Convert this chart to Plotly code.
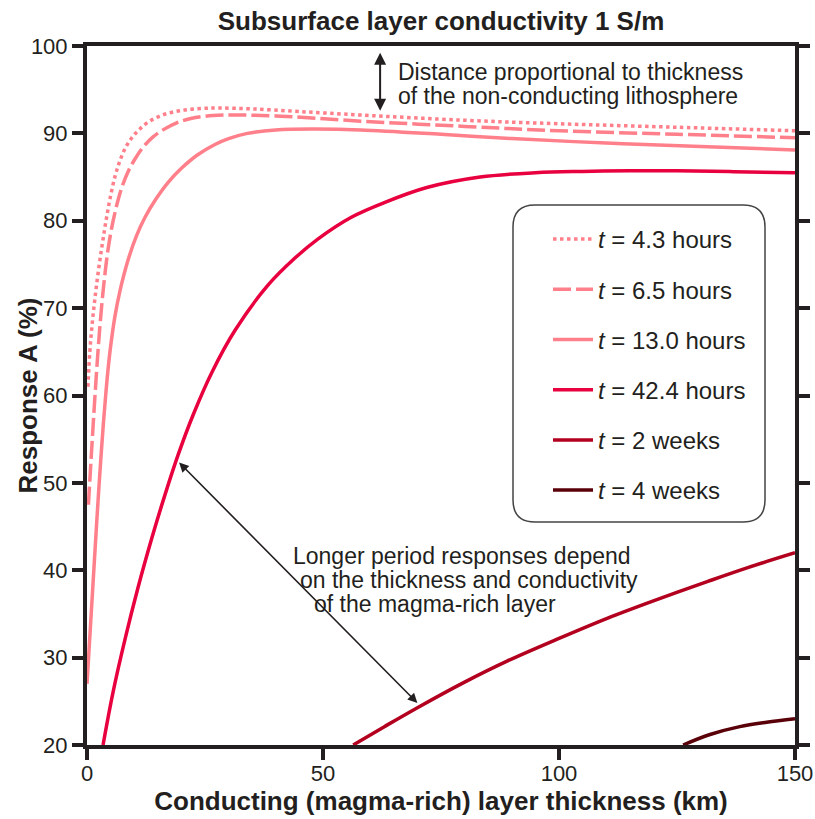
import plotly.graph_objects as go

# Response curves: layer thickness (km) vs response A (%)
x_43h = [0.2, 0.6, 1.1, 1.7, 2.4, 3.2, 4.0, 4.9, 6.0, 7.0, 8.1, 9.5, 11, 13, 16, 19.7, 24, 28, 35, 45, 58, 80, 100, 125, 150]
y_43h = [61, 65.0, 68.2, 71.2, 74.2, 77.2, 79.9, 82.6, 85.2, 86.9, 88.3, 89.5, 90.4, 91.3, 92.1, 92.6, 92.85, 92.9, 92.8, 92.5, 92.1, 91.5, 91.1, 90.7, 90.3]

x_65h = [0.3, 0.7, 1.1, 1.6, 2.1, 2.6, 3.2, 3.8, 4.4, 5.2, 6.0, 6.6, 7.5, 8.7, 10.2, 12, 14, 16.1, 19, 22, 26.7, 32, 40, 58, 80, 100, 125, 150]
y_65h = [47.5, 51.2, 54.8, 59.2, 63.3, 67.0, 70.8, 73.9, 76.5, 79.1, 81.1, 82.4, 84.0, 85.6, 87.1, 88.5, 89.6, 90.4, 91.2, 91.7, 92.05, 92.1, 92.0, 91.4, 90.8, 90.3, 89.9, 89.5]

x_130h = [0, 0.5, 1.0, 1.5, 2.0, 2.5, 3.0, 3.5, 4.0, 4.5, 5.0, 5.9, 7.0, 8.7, 10.5, 12.3, 14.5, 17.2, 20, 23.3, 27, 30, 34, 40, 48, 58, 75, 90, 110, 130, 150]
y_130h = [27, 31.5, 36, 40.5, 45, 49.3, 53.3, 57.0, 60.3, 63.2, 65.6, 69.0, 72.0, 75.5, 78.3, 80.4, 82.4, 84.4, 86.0, 87.5, 88.7, 89.4, 90.0, 90.4, 90.5, 90.4, 89.9, 89.4, 88.9, 88.5, 88.1]

x_424h = [3.4, 5.5, 8.1, 10.8, 13.8, 16.5, 19.3, 22.5, 26.5, 31.4, 38.3, 44, 48.9, 56, 63.1, 72, 83.3, 95, 105, 115, 125, 137, 150]
y_424h = [20, 26.0, 32.2, 38.0, 43.8, 48.6, 53.2, 57.8, 62.7, 67.5, 72.6, 75.7, 77.9, 80.4, 82.1, 83.8, 85.0, 85.5, 85.65, 85.72, 85.72, 85.62, 85.5]

x_2w = [56.4, 63, 70.1, 80, 89, 100, 110.2, 120, 131.4, 140, 150]
y_2w = [20, 22.1, 24.3, 27.2, 29.6, 32.2, 34.5, 36.5, 38.7, 40.3, 42.0]

x_4w = [126.3, 132, 138.3, 144, 150]
y_4w = [20, 21.2, 22.1, 22.6, 23.0]

labels = ["4.3 hours", "6.5 hours", "13.0 hours", "42.4 hours", "2 weeks", "4 weeks"]

x_ticks = [0, 50, 100, 150]
y_ticks = [20, 30, 40, 50, 60, 70, 80, 90, 100]

INK = "#231f20"
PINK = "#ff7f8a"
FONT = "Liberation Sans, Arial, sans-serif"

series = [
    (x_43h, y_43h, PINK, "dot"),
    (x_65h, y_65h, PINK, "18px,5px"),
    (x_130h, y_130h, PINK, "solid"),
    (x_424h, y_424h, "#e8003f", "solid"),
    (x_2w, y_2w, "#b3001f", "solid"),
    (x_4w, y_4w, "#5a0009", "solid"),
]

fig = go.Figure()
for (xs, ys, color, dash), lab in zip(series, labels):
    fig.add_trace(go.Scatter(
        x=xs, y=ys, mode="lines",
        line=dict(color=color, width=3.5, dash=dash, shape="spline", smoothing=1.0),
        name=f"<i>t</i> = {lab}", legendgroup=lab,
    ))

# plot area spans x 87..795 px, y 46..745 px
fig.update_layout(
    width=815, height=819,
    margin=dict(l=87, r=20, t=46, b=74),
    paper_bgcolor="white", plot_bgcolor="white",
    showlegend=True,
    legend=dict(
        x=(548 - 87) / 708, y=(745 - 217) / 699, xanchor="left", yanchor="top",
        font=dict(family=FONT, size=24, color=INK),
        bgcolor="rgba(0,0,0,0)", borderwidth=0,
        tracegroupgap=16, traceorder="grouped", itemwidth=40,
    ),
    title=dict(
        text="<b>Subsurface layer conductivity 1 S/m</b>",
        x=441 / 815, xanchor="center", y=1 - 21 / 819, yanchor="middle",
        font=dict(family=FONT, size=26, color=INK),
    ),
    xaxis=dict(
        range=[0, 150], tickvals=x_ticks, ticks="outside", ticklen=11, tickwidth=4,
        tickcolor=INK, showline=True, linewidth=4, linecolor=INK, mirror=True,
        showgrid=False, zeroline=False, automargin=False, ticklabelstandoff=-5,
        tickfont=dict(family=FONT, size=22, color=INK),
        title=dict(text="<b>Conducting (magma-rich) layer thickness (km)</b>",
                   font=dict(family=FONT, size=26, color=INK), standoff=4),
    ),
    yaxis=dict(
        range=[20, 100], tickvals=y_ticks, ticks="outside", ticklen=11, tickwidth=4,
        tickcolor=INK, showline=True, linewidth=4, linecolor=INK, mirror="ticks",
        showgrid=False, zeroline=False, automargin=False,
        tickfont=dict(family=FONT, size=22, color=INK),
    ),
)

# Y-axis title
fig.add_annotation(x=(27 - 87) / 708, y=0.5, xref="paper", yref="paper",
                   xanchor="center", yanchor="middle", textangle=-90, showarrow=False,
                   text="<b>Response A (%)</b>", font=dict(family=FONT, size=26, color=INK))

# Rounded legend frame
x0, x1 = (513 - 87) / 708, (765 - 87) / 708
y0, y1 = (745 - 522) / 699, (745 - 205) / 699
rx, ry = 22 / 708, 22 / 699
path = (f"M{x0+rx},{y1} L{x1-rx},{y1} Q{x1},{y1} {x1},{y1-ry} L{x1},{y0+ry} "
        f"Q{x1},{y0} {x1-rx},{y0} L{x0+rx},{y0} Q{x0},{y0} {x0},{y0+ry} "
        f"L{x0},{y1-ry} Q{x0},{y1} {x0+rx},{y1} Z")
fig.add_shape(type="path", path=path, xref="paper", yref="paper",
              line=dict(color="#444444", width=1.5), fillcolor="rgba(0,0,0,0)")

# Vertical double arrow near the top
fig.add_annotation(x=62.1, y=92.6, ax=62.1, ay=99.4, xref="x", yref="y",
                   axref="x", ayref="y", text="", showarrow=True,
                   arrowhead=2, startarrowhead=2, arrowside="end+start",
                   arrowsize=1.2, startarrowsize=1.2, arrowwidth=2, arrowcolor=INK)
top_lines = [
    ("Distance proportional to thickness", 97.0),
    ("of the non-conducting lithosphere", 94.3),
]
for txt, yv in top_lines:
    fig.add_annotation(x=65.5, y=yv, xref="x", yref="y", xanchor="left", yanchor="middle",
                       showarrow=False, text=txt,
                       font=dict(family=FONT, size=23, color=INK))

# Diagonal double arrow toward the long-period curves
fig.add_annotation(x=70.0, y=24.8, ax=19.2, ay=52.5, xref="x", yref="y",
                   axref="x", ayref="y", text="", showarrow=True,
                   arrowhead=2, startarrowhead=2, arrowside="end+start",
                   arrowsize=1.2, startarrowsize=1.2, arrowwidth=1.6, arrowcolor=INK)

note_lines = [
    ("Longer period responses depend", 43.2, 41.6),
    ("on the thickness and conductivity", 44.7, 38.9),
    ("of the magma-rich layer", 47.7, 36.1),
]
for txt, xv, yv in note_lines:
    fig.add_annotation(x=xv, y=yv, xref="x", yref="y", xanchor="left", yanchor="middle",
                       showarrow=False, text=txt,
                       font=dict(family=FONT, size=23, color=INK))

fig.write_html("out.html")
